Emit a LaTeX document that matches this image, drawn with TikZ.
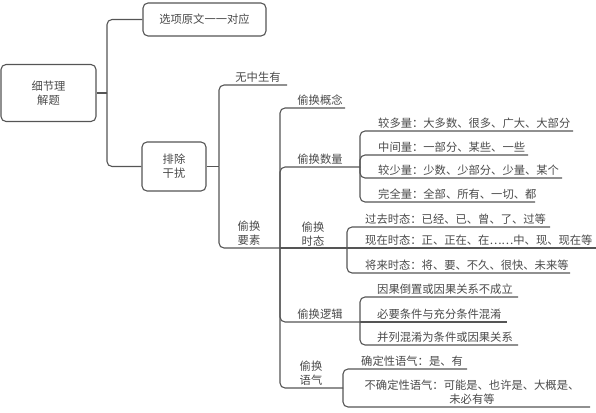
\documentclass[tikz,border=0pt]{standalone}
\usepackage{fontspec}
\setmainfont{Noto Sans CJK SC}
\definecolor{ink}{HTML}{555555}
\definecolor{txt}{HTML}{4A4A4A}
\begin{document}
\begin{tikzpicture}[x=1pt,y=-1pt,
  conn/.style={draw=ink,line width=1.1pt,rounded corners=5pt},
  box/.style={draw=ink,line width=1.1pt,rounded corners=5pt,align=center,text=txt,font=\fontsize{11.3}{14}\selectfont,inner sep=0pt},
  lbl/.style={text=txt,font=\fontsize{11.3}{14}\selectfont,inner sep=0pt,align=center},
  leaf/.style={lbl,anchor=base west},
]
\useasboundingbox (0,0) rectangle (596,412);

% boxes
\node[box,minimum width=95pt,minimum height=57pt] (root) at (48.5,93) {细节理\\解题};
\node[box,minimum width=123pt,minimum height=33pt] (opt) at (204.5,19.5) {选项原文一一对应};
\node[box,minimum width=64pt,minimum height=49pt] (pc) at (174,166.5) {排除\\干扰};

\coordinate (j1) at (107,93);
\draw[conn] (root.east) -- (j1);
\draw[conn] (j1) |- (opt.west);
\draw[conn] (j1) |- (pc.west);

\coordinate (j2) at (219,166.5);
\coordinate (wzE) at (287,85);
\coordinate (j3) at (280,248);
\draw[conn] (pc.east) -- (j2);
\draw[conn] (j2) |- (wzE);
\draw[conn] (j2) |- (j3);
\node[lbl,anchor=base] (wz) at (258,81) {无中生有};
\node[lbl,anchor=south] (th) at (249,245.5) {偷换\\要素};

% second level
\coordinate (gnE) at (345,108);
\coordinate (j4) at (360,167);
\coordinate (j5) at (347,248);
\coordinate (j6) at (360,322);
\coordinate (j7) at (343,388);
\draw[conn] (j3) |- (gnE);
\draw[conn] (j3) |- (j4);
\draw[conn] (j3) -- (j5);
\draw[conn] (j3) |- (j6);
\draw[conn] (j3) |- (j7);
\node[lbl,anchor=base] (gn) at (320,104) {偷换概念};
\node[lbl,anchor=base] (sl) at (320,163) {偷换数量};
\node[lbl,anchor=south] (ts) at (313,246) {偷换\\时态};
\node[lbl,anchor=base] (lj) at (320,318) {偷换逻辑};
\node[lbl,anchor=south] (yq) at (311,386) {偷换\\语气};

% quantity
\coordinate (a1) at (573,131);
\coordinate (a2) at (528,155);
\coordinate (a3) at (562,178);
\coordinate (a4) at (535,202);
\draw[conn] (j4) |- (a1);
\draw[conn] (j4) |- (a2);
\draw[conn] (j4) |- (a3);
\draw[conn] (j4) |- (a4);
\node[leaf] (t1) at (378,127) {较多量：大多数、很多、广大、大部分};
\node[leaf] (t2) at (378,151) {中间量：一部分、某些、一些};
\node[leaf] (t3) at (378,174) {较少量：少数、少部分、少量、某个};
\node[leaf] (t4) at (378,198) {完全量：全部、所有、一切、都};

% tense
\coordinate (b1) at (550,227);
\coordinate (b2) at (596,248);
\coordinate (b3) at (570,273);
\draw[conn] (j5) |- (b1);
\draw[conn] (j5) -- (b2);
\draw[conn] (j5) |- (b3);
\node[leaf] (u1) at (365,223) {过去时态：已经、已、曾、了、过等};
\node[leaf] (u2) at (365,244) {现在时态：正、正在、在……中、现、现在等};
\node[leaf] (u3) at (365,269) {将来时态：将、要、不久、很快、未来等};

% logic
\coordinate (c1) at (518,297);
\coordinate (c2) at (507,322);
\coordinate (c3) at (518,345);
\draw[conn] (j6) |- (c1);
\draw[conn] (j6) -- (c2);
\draw[conn] (j6) |- (c3);
\node[leaf] (v1) at (377,293) {因果倒置或因果关系不成立};
\node[leaf] (v2) at (377,318) {必要条件与充分条件混淆};
\node[leaf] (v3) at (377,341) {并列混淆为条件或因果关系};

% mood
\coordinate (d1) at (467,369);
\coordinate (d2) at (590,407);
\draw[conn] (j7) |- (d1);
\draw[conn] (j7) |- (d2);
\node[leaf] (w1) at (361,365) {确定性语气：是、有};
\node[lbl,anchor=south] (w2) at (472,405) {不确定性语气：可能是、也许是、大概是、\\未必有等};
\end{tikzpicture}
\end{document}
